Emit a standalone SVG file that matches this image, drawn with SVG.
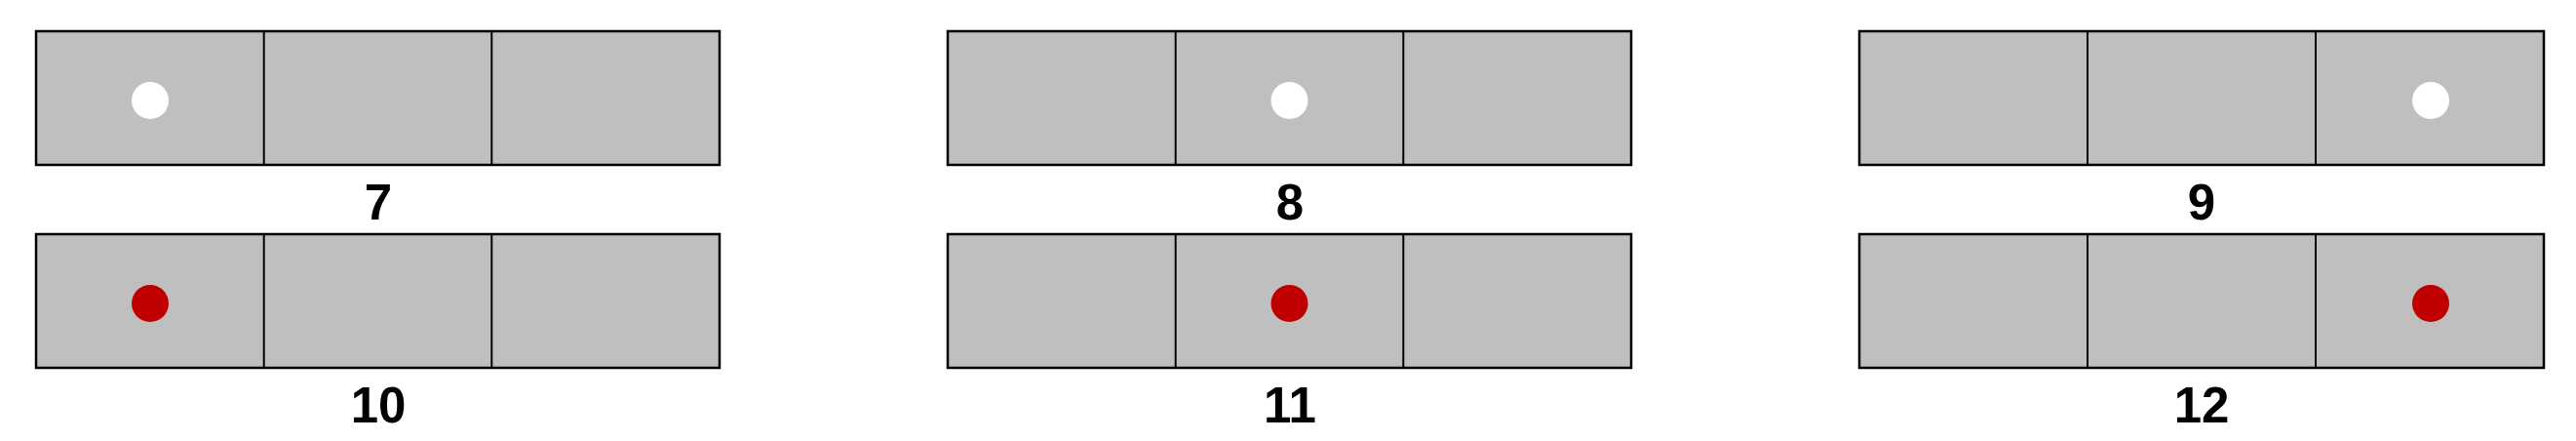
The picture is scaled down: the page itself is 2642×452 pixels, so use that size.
<svg xmlns="http://www.w3.org/2000/svg" width="2642" height="452" viewBox="0 0 2642 452">
<style>
.box{fill:#BFBFBF;stroke:#000;stroke-width:2.5}
.div{stroke:#000;stroke-width:2}
.lbl{font-family:"Liberation Sans",Arial,sans-serif;font-weight:bold;font-size:51px;fill:#000;text-anchor:middle}
.w{fill:#FFFFFF}
.r{fill:#C00000}
</style>
<rect width="2642" height="452" fill="#FFFFFF"/>
<g id="panel7">
<rect class="box" x="37" y="32" width="701" height="137"/>
<line class="div" x1="270.7" y1="32" x2="270.7" y2="169"/>
<line class="div" x1="504.3" y1="32" x2="504.3" y2="169"/>
<circle class="w" cx="154" cy="103" r="19"/>
<text class="lbl" x="388" y="225">7</text>
</g>
<g id="panel8">
<rect class="box" x="972" y="32" width="701" height="137"/>
<line class="div" x1="1205.7" y1="32" x2="1205.7" y2="169"/>
<line class="div" x1="1439.3" y1="32" x2="1439.3" y2="169"/>
<circle class="w" cx="1322.5" cy="103" r="19"/>
<text class="lbl" x="1323" y="225">8</text>
</g>
<g id="panel9">
<rect class="box" x="1907" y="32" width="702" height="137"/>
<line class="div" x1="2141" y1="32" x2="2141" y2="169"/>
<line class="div" x1="2375" y1="32" x2="2375" y2="169"/>
<circle class="w" cx="2493" cy="103" r="19"/>
<text class="lbl" x="2258" y="225">9</text>
</g>
<g id="panel10">
<rect class="box" x="37" y="240" width="701" height="137"/>
<line class="div" x1="270.7" y1="240" x2="270.7" y2="377"/>
<line class="div" x1="504.3" y1="240" x2="504.3" y2="377"/>
<circle class="r" cx="154" cy="311" r="19"/>
<text class="lbl" x="388" y="433">10</text>
</g>
<g id="panel11">
<rect class="box" x="972" y="240" width="701" height="137"/>
<line class="div" x1="1205.7" y1="240" x2="1205.7" y2="377"/>
<line class="div" x1="1439.3" y1="240" x2="1439.3" y2="377"/>
<circle class="r" cx="1322.5" cy="311" r="19"/>
<text class="lbl" x="1323" y="433">11</text>
</g>
<g id="panel12">
<rect class="box" x="1907" y="240" width="702" height="137"/>
<line class="div" x1="2141" y1="240" x2="2141" y2="377"/>
<line class="div" x1="2375" y1="240" x2="2375" y2="377"/>
<circle class="r" cx="2493" cy="311" r="19"/>
<text class="lbl" x="2258" y="433">12</text>
</g>
<g id="connectors"/>
</svg>
